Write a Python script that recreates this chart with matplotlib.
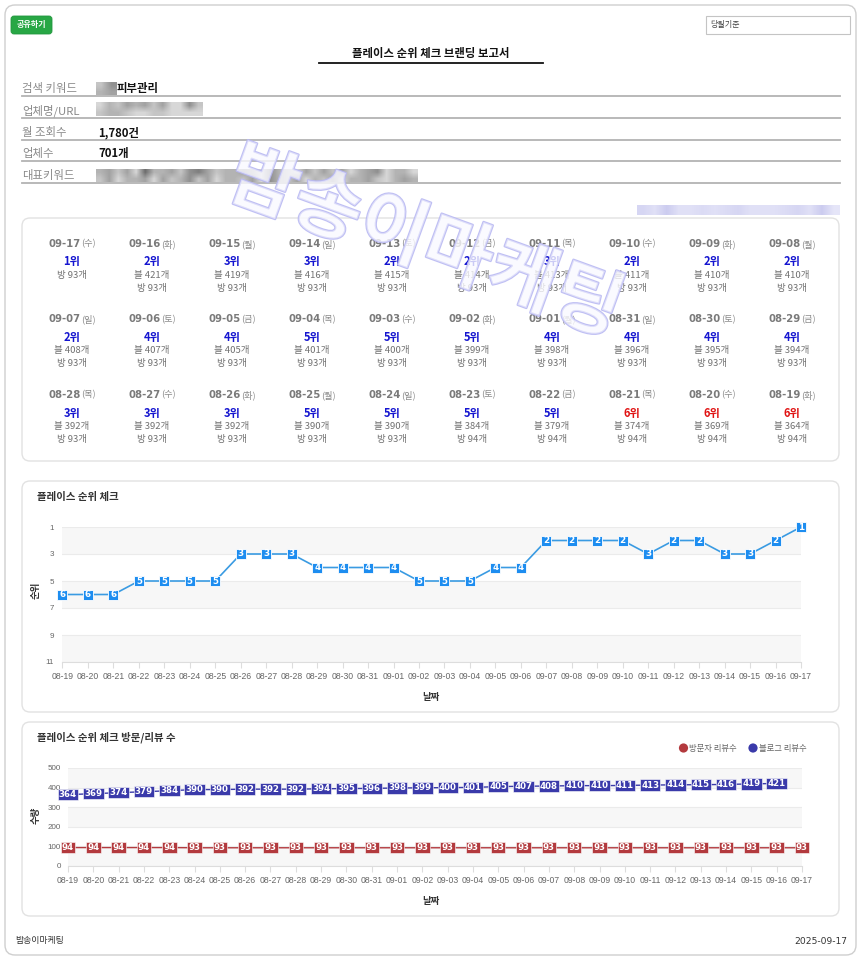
import matplotlib
matplotlib.use('Agg')
import matplotlib.pyplot as plt
from matplotlib.patches import FancyBboxPatch, Rectangle, Circle
import matplotlib.patheffects as pe
import numpy as np

plt.rcParams['font.family'] = ['Noto Sans CJK KR', 'DejaVu Sans']

# ---------------- data ----------------
dates = ['08-19', '08-20', '08-21', '08-22', '08-23', '08-24', '08-25', '08-26', '08-27', '08-28',
         '08-29', '08-30', '08-31', '09-01', '09-02', '09-03', '09-04', '09-05', '09-06', '09-07',
         '09-08', '09-09', '09-10', '09-11', '09-12', '09-13', '09-14', '09-15', '09-16', '09-17']
weekdays = ['화', '수', '목', '금', '토', '일', '월', '화', '수', '목',
            '금', '토', '일', '월', '화', '수', '목', '금', '토', '일',
            '월', '화', '수', '목', '금', '토', '일', '월', '화', '수']
ranks = [6, 6, 6, 5, 5, 5, 5, 3, 3, 3, 4, 4, 4, 4, 5, 5, 5, 4, 4, 2,
         2, 2, 2, 3, 2, 2, 3, 3, 2, 1]
blog_reviews = [364, 369, 374, 379, 384, 390, 390, 392, 392, 392, 394, 395, 396, 398, 399,
                400, 401, 405, 407, 408, 410, 410, 411, 413, 414, 415, 416, 419, 421, None]
visitor_reviews = [94, 94, 94, 94, 94, 93, 93, 93, 93, 93, 93, 93, 93, 93, 93,
                   93, 93, 93, 93, 93, 93, 93, 93, 93, 93, 93, 93, 93, 93, 93]

info_labels = ['검색 키워드', '업체명/URL', '월 조회수', '업체수', '대표키워드']
monthly_views = '1,780건'
company_count = '701개'
keyword_tail = '피부관리'
report_title = '플레이스 순위 체크 브랜딩 보고서'
rank_ticks = [1, 3, 5, 7, 9, 11]
count_ticks = [0, 100, 200, 300, 400, 500]

W, H = 862, 959
fig = plt.figure(figsize=(W / 100, H / 100), dpi=100)
fig.patch.set_facecolor('white')

bg = fig.add_axes([0, 0, 1, 1])
bg.set_xlim(0, W)
bg.set_ylim(H, 0)
bg.axis('off')


def card(x0, y0, x1, y1, r=8, ec='#e2e2e2', lw=1.0, z=1):
    bg.add_patch(FancyBboxPatch((x0, y0), x1 - x0, y1 - y0,
                                boxstyle=f"round,pad=0,rounding_size={r}",
                                fc='white', ec=ec, lw=lw, zorder=z))


def px_axes(x0, y0, x1, y1):
    return fig.add_axes([x0 / W, 1 - y1 / H, (x1 - x0) / W, (y1 - y0) / H])


def mosaic(x0, y0, x1, y1, pattern, rows, light=False):
    vals = np.array([int(c) for c in pattern], dtype=float)
    cols = len(vals) // rows
    arr = vals[:rows * cols].reshape(rows, cols) / 9.0
    if light:
        rgb = np.zeros((rows, cols, 3))
        rgb[..., 0] = 0.74 + 0.18 * arr
        rgb[..., 1] = 0.74 + 0.18 * arr
        rgb[..., 2] = 0.92 + 0.06 * arr
        bg.imshow(rgb, extent=(x0, x1, y1, y0), interpolation='bilinear', aspect='auto', zorder=3)
    else:
        bg.imshow(0.22 + 0.62 * arr, extent=(x0, x1, y1, y0), cmap='gray', vmin=0, vmax=1,
                  interpolation='bilinear', aspect='auto', zorder=3)


# outer frame
card(5, 5, 856, 955, r=10, ec='#cfcfcf', lw=1.0, z=0)

# share button
bg.add_patch(FancyBboxPatch((11, 16), 41, 18, boxstyle="round,pad=0,rounding_size=3",
                            fc='#28a745', ec='#23963e', lw=0.6, zorder=2))
bg.text(31.5, 25, '공유하기', ha='center', va='center', fontsize=5.8, color='white',
        fontweight='bold', zorder=3)

# select box
bg.add_patch(Rectangle((706, 16), 144, 18, fc='white', ec='#c4c4c4', lw=0.8, zorder=2))
bg.text(710, 25, '당월기준', ha='left', va='center', fontsize=5.8, color='#444', zorder=3)

# title
bg.text(431, 54, report_title, ha='center', va='center', fontsize=8.2,
        fontweight='bold', color='#111', zorder=3)
bg.plot([319, 543], [63, 63], color='#111', lw=1.3, zorder=3)

# info rows
label_y = [88.5, 110.5, 132.5, 154, 175.5]
line_y = [96, 117.5, 139.5, 161, 182.5]
for lab, ly, ln in zip(info_labels, label_y, line_y):
    bg.text(22, ly, lab, ha='left', va='center', fontsize=8.2, color='#8a8a8a', zorder=3)
    bg.plot([22, 840], [ln, ln], color='#b3b3b3', lw=1.3, zorder=2)

bg.text(117, label_y[0], keyword_tail, ha='left', va='center', fontsize=8.2,
        fontweight='bold', color='#111', zorder=3)
bg.text(98, label_y[2], monthly_views, ha='left', va='center', fontsize=8.2,
        fontweight='bold', color='#111', zorder=3)
bg.text(98, label_y[3], company_count, ha='left', va='center', fontsize=8.2,
        fontweight='bold', color='#111', zorder=3)

mosaic(96, 82, 117, 95, '8576', 2)
mosaic(96, 102, 203, 116, '978676869958877899889999', 2)
mosaic(96, 169, 418, 182, '768693776854687767957896868697659779' + '869776968758697786957869786977689767', 2)
mosaic(637, 205, 840, 215, '57377676577765738', 1, light=True)

# ---------------- card 1: daily grid ----------------
card(22, 218, 839, 461)
n = len(dates)
for k in range(n):
    i = n - 1 - k
    row, col = divmod(k, 10)
    cx = 72 + 80 * col
    dy = 244 + 75.5 * row
    bg.text(cx + 8.5, dy, dates[i], ha='right', va='center', fontsize=7.3,
            fontweight='bold', color='#7a7a7a', family='DejaVu Sans', zorder=3)
    bg.text(cx + 9, dy, f'({weekdays[i]})', ha='left', va='center', fontsize=6.6,
            color='#8a8a8a', zorder=3)
    r = ranks[i]
    rc = '#e01414' if r >= 6 else '#1515d0'
    bg.text(cx, dy + 18, f'{r}위', ha='center', va='center', fontsize=8,
            fontweight='bold', color=rc, zorder=3)
    yb = dy + 31.5
    if blog_reviews[i] is not None:
        bg.text(cx, yb, f'블 {blog_reviews[i]}개', ha='center', va='center', fontsize=6.8,
                color='#707070', zorder=3)
        yb += 12.8
    bg.text(cx, yb, f'방 {visitor_reviews[i]}개', ha='center', va='center', fontsize=6.8,
            color='#707070', zorder=3)

# watermark
bg.text(425, 244, '밤송이마케팅', ha='center', va='center', fontsize=54, fontweight='bold',
        rotation=-20, color=(0.98, 0.98, 1.0, 0.55), zorder=10,
        path_effects=[pe.Stroke(linewidth=1.6, foreground=(0.72, 0.72, 0.95, 0.9)), pe.Normal()])

# ---------------- card 2: rank chart ----------------
card(22, 481, 839, 712)
bg.text(37, 497, '플레이스 순위 체크', ha='left', va='center', fontsize=7.5, fontweight='bold',
        color='#333', zorder=3)
bg.text(431, 697, '날짜', ha='center', va='center', fontsize=6.8, fontweight='bold', color='#333', zorder=3)
bg.text(36, 590, '순위', ha='center', va='center', fontsize=6.8, fontweight='bold', color='#333',
        rotation=90, zorder=3)

x = np.arange(n)
ax1 = px_axes(62.5, 527, 801, 662)
ax1.set_facecolor('none')
ax1.set_xlim(0, n - 1)
ax1.set_ylim(11, 1)
for a, b in [(1, 3), (5, 7), (9, 11)]:
    ax1.axhspan(a, b, color='#f7f7f7', lw=0, zorder=0)
for t in rank_ticks:
    ax1.axhline(t, color='#ebebeb', lw=0.8, zorder=0.5)
ax1.plot(x, ranks, color='#3a9be2', lw=1.2, zorder=2, clip_on=False)
ax1.plot(x, ranks, 's', ms=7.6, mfc='#1d8df0', mec='white', mew=0.6, zorder=3, clip_on=False)
for xi, r in zip(x, ranks):
    ax1.text(xi, r, str(r), ha='center', va='center', fontsize=6.3, fontweight='bold',
             color='white', family='DejaVu Sans', zorder=4, clip_on=False)
ax1.set_yticks(rank_ticks)
ax1.set_yticklabels([str(t) for t in rank_ticks], fontsize=5.8, color='#666', family='Liberation Sans')
ax1.set_xticks(x)
ax1.set_xticklabels(dates, fontsize=6.2, color='#666', family='Liberation Sans')
ax1.tick_params(axis='y', length=0, pad=6)
ax1.tick_params(axis='x', length=4, width=0.8, color='#dddddd', pad=3)
for s in ['left', 'right', 'top']:
    ax1.spines[s].set_visible(False)
ax1.spines['bottom'].set_color('#dddddd')
ax1.spines['bottom'].set_linewidth(0.8)

# ---------------- card 3: review counts ----------------
card(22, 722, 839, 916)
bg.text(37, 737, '플레이스 순위 체크 방문/리뷰 수', ha='left', va='center', fontsize=7.5,
        fontweight='bold', color='#333', zorder=3)
bg.text(431, 901, '날짜', ha='center', va='center', fontsize=6.8, fontweight='bold', color='#333', zorder=3)
bg.text(36, 815, '수량', ha='center', va='center', fontsize=6.8, fontweight='bold', color='#333',
        rotation=90, zorder=3)

red = '#b33a3e'
blue = '#3a3aaa'
bg.add_patch(Circle((683.5, 748), 4.6, fc=red, ec='none', zorder=3))
bg.text(689.5, 748.5, '방문자 리뷰수', ha='left', va='center', fontsize=6, color='#666', zorder=3)
bg.add_patch(Circle((753, 748), 4.6, fc=blue, ec='none', zorder=3))
bg.text(759, 748.5, '블로그 리뷰수', ha='left', va='center', fontsize=6, color='#666', zorder=3)

ax2 = px_axes(68, 768, 802, 866)
ax2.set_facecolor('none')
ax2.set_xlim(0, n - 1)
ax2.set_ylim(0, 500)
for a, b in [(400, 500), (200, 300), (0, 100)]:
    ax2.axhspan(a, b, color='#f7f7f7', lw=0, zorder=0)
for t in count_ticks:
    ax2.axhline(t, color='#ebebeb', lw=0.8, zorder=0.5)
blog_arr = np.array([np.nan if v is None else v for v in blog_reviews], dtype=float)
ax2.plot(x, blog_arr, color=blue, lw=1.0, zorder=2, clip_on=False)
ax2.plot(x, visitor_reviews, color=red, lw=1.0, zorder=2, clip_on=False)
for xi, v in zip(x, blog_reviews):
    if v is None:
        continue
    ax2.text(xi, v, str(v), ha='center', va='center', fontsize=6.2, fontweight='bold', color='white',
             family='DejaVu Sans', zorder=4, clip_on=False,
             bbox=dict(boxstyle='square,pad=0.14', fc=blue, ec='white', lw=0.4))
for xi, v in zip(x, visitor_reviews):
    ax2.text(xi, v, str(v), ha='center', va='center', fontsize=6.2, fontweight='bold', color='white',
             family='DejaVu Sans', zorder=4, clip_on=False,
             bbox=dict(boxstyle='square,pad=0.14', fc=red, ec='white', lw=0.4))
ax2.set_yticks(count_ticks)
ax2.set_yticklabels([str(t) for t in count_ticks], fontsize=5.8, color='#666', family='Liberation Sans')
ax2.set_xticks(x)
ax2.set_xticklabels(dates, fontsize=6.2, color='#666', family='Liberation Sans')
ax2.tick_params(axis='y', length=0, pad=5)
ax2.tick_params(axis='x', length=4, width=0.8, color='#dddddd', pad=3)
for s in ['left', 'right', 'top']:
    ax2.spines[s].set_visible(False)
ax2.spines['bottom'].set_color('#dddddd')
ax2.spines['bottom'].set_linewidth(0.8)

# footer
bg.text(15, 941, '밤송이마케팅', ha='left', va='center', fontsize=6.4, color='#333', zorder=3)
bg.text(847, 941, '2025-09-17', ha='right', va='center', fontsize=6.6, color='#333',
        family='DejaVu Sans', zorder=3)

bg.set_xlim(0, W)
bg.set_ylim(H, 0)

fig.savefig('out.png', dpi=100, facecolor='white')
